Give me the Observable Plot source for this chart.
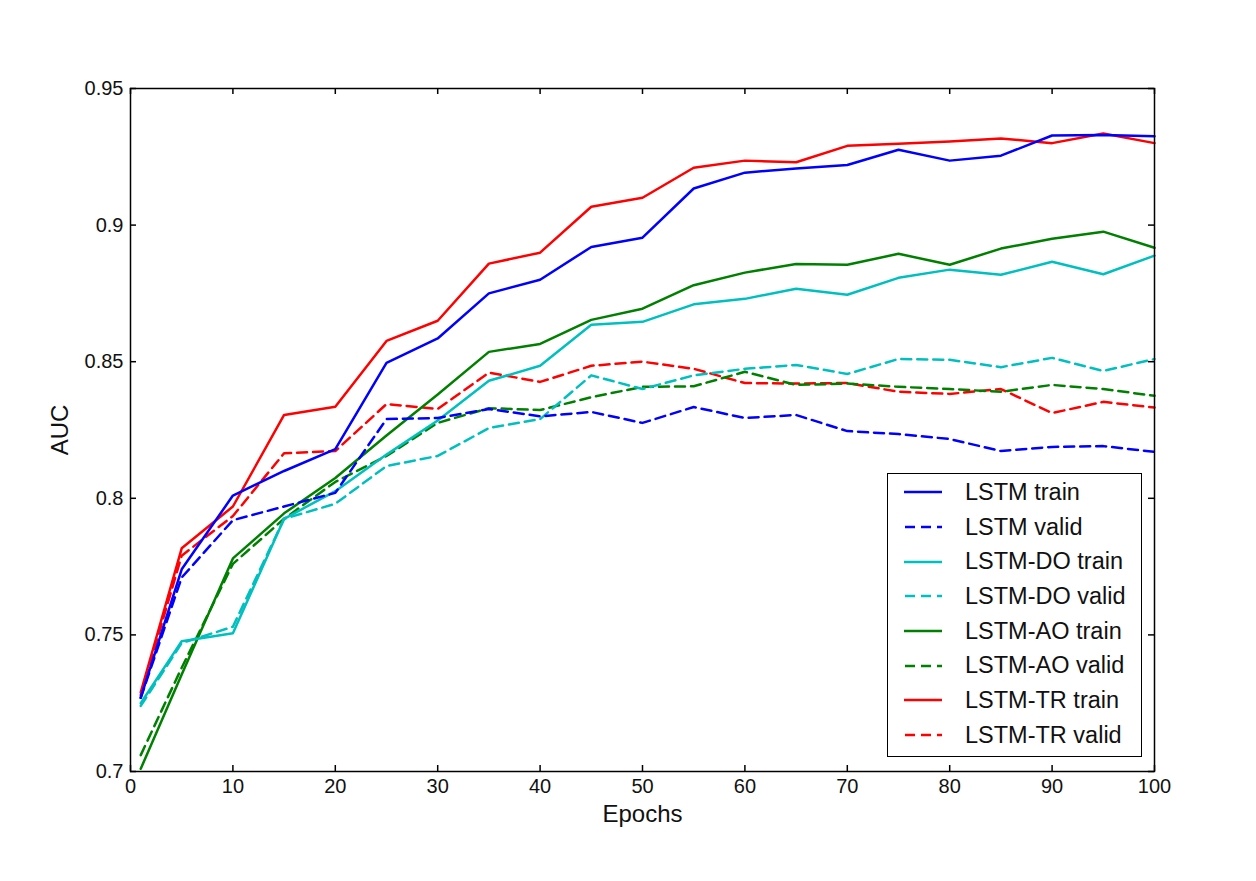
<!DOCTYPE html>
<html>
<head>
<meta charset="utf-8">
<script src="https://cdn.jsdelivr.net/npm/d3@7"></script>
<script src="https://cdn.jsdelivr.net/npm/@observablehq/plot@0.6"></script>
<style>
  html, body { margin: 0; padding: 0; background: #fff; }
  #wrap { position: relative; width: 1256px; height: 881px; font-family: "Liberation Sans", Arial, Helvetica, sans-serif; }
  #legend { position: absolute; left: 887px; top: 473px; width: 255px; height: 284px; border: 1.5px solid #000; background: #fff; box-sizing: border-box; padding-top: 1px; }
  .row { height: 34.7px; display: flex; align-items: center; font-size: 23.5px; color: #111; }
  .row svg { margin-left: 16px; margin-right: 23px; }
</style>
</head>
<body>
<div id="wrap"></div>
<script>
const epochs = [1,5,10,15,20,25,30,35,40,45,50,55,60,65,70,75,80,85,90,95,100];

const lstmTrain   = [0.727,0.774,0.801,0.810,0.818,0.8496,0.8585,0.875,0.880,0.892,0.8954,0.9134,0.9192,0.9207,0.922,0.9276,0.9236,0.9254,0.9328,0.933,0.9325];
const lstmValid   = [0.727,0.771,0.792,0.797,0.802,0.829,0.8294,0.8327,0.830,0.8316,0.8276,0.8334,0.8294,0.8305,0.8246,0.8235,0.8217,0.8173,0.8188,0.8191,0.817];
const doTrain     = [0.725,0.7477,0.7506,0.7925,0.8026,0.816,0.8285,0.843,0.8485,0.8635,0.8646,0.871,0.873,0.8767,0.8745,0.8807,0.8837,0.8818,0.8866,0.882,0.8888];
const doValid     = [0.724,0.747,0.753,0.7925,0.798,0.8118,0.8155,0.8257,0.829,0.845,0.840,0.845,0.8474,0.8488,0.8455,0.851,0.8507,0.848,0.8514,0.8466,0.851];
const aoTrain     = [0.701,0.7355,0.778,0.7945,0.8074,0.823,0.838,0.8536,0.8565,0.8653,0.8694,0.878,0.8826,0.8858,0.8855,0.8895,0.8855,0.8914,0.895,0.8976,0.8917];
const aoValid     = [0.706,0.738,0.776,0.7925,0.806,0.8155,0.8276,0.833,0.8323,0.837,0.8408,0.841,0.8463,0.8415,0.842,0.8408,0.840,0.839,0.8415,0.840,0.8375];
const trTrain     = [0.729,0.7817,0.797,0.8305,0.8335,0.8576,0.865,0.8859,0.8899,0.9067,0.910,0.921,0.9236,0.923,0.929,0.9298,0.9306,0.9317,0.930,0.9335,0.930];
const trValid     = [0.728,0.779,0.7935,0.8165,0.8173,0.8345,0.8327,0.846,0.8426,0.8485,0.850,0.8474,0.8422,0.842,0.8422,0.839,0.8382,0.840,0.8312,0.8353,0.8332];

const seriesNames = ["LSTM train","LSTM valid","LSTM-DO train","LSTM-DO valid","LSTM-AO train","LSTM-AO valid","LSTM-TR train","LSTM-TR valid"];
const seriesValues = [lstmTrain,lstmValid,doTrain,doValid,aoTrain,aoValid,trTrain,trValid];
const seriesColors = ["#0000ff","#0000ff","#00bfbf","#00bfbf","#008000","#008000","#ff0000","#ff0000"];
const seriesDashed = [false,true,false,true,false,true,false,true];

const xTicks = [0,10,20,30,40,50,60,70,80,90,100];
const yTicks = [0.7,0.75,0.8,0.85,0.9,0.95];

const W = 1256, H = 881;
const mL = 130, mR = 102, mT = 88, mB = 110;
const innerW = W - mL - mR, innerH = H - mT - mB;
const tickLen = 6;

const lineMarks = seriesNames.map((name, i) =>
  Plot.line(epochs.map((e, j) => ({epoch: e, auc: seriesValues[i][j]})), {
    x: "epoch", y: "auc",
    stroke: seriesColors[i], strokeWidth: 2.5,
    strokeDasharray: seriesDashed[i] ? "10,6" : null
  })
);

const chart = Plot.plot({
  width: W, height: H,
  marginLeft: mL, marginRight: mR, marginTop: mT, marginBottom: mB,
  style: {fontFamily: '"Liberation Sans", Arial, Helvetica, sans-serif', background: "#fff", color: "#111"},
  x: {domain: [0, 100]},
  y: {domain: [0.7, 0.95]},
  marks: [
    ...lineMarks.slice().reverse(),
    Plot.frame({stroke: "#000", strokeWidth: 1.5}),
    Plot.tickX(xTicks, {x: d => d, stroke: "#000", strokeWidth: 1.5, insetTop: innerH - tickLen}),
    Plot.tickX(xTicks, {x: d => d, stroke: "#000", strokeWidth: 1.5, insetBottom: innerH - tickLen}),
    Plot.tickY(yTicks, {y: d => d, stroke: "#000", strokeWidth: 1.5, insetRight: innerW - tickLen}),
    Plot.tickY(yTicks, {y: d => d, stroke: "#000", strokeWidth: 1.5, insetLeft: innerW - tickLen}),
    Plot.axisX({ticks: xTicks, tickSize: 0, tickPadding: 7, fontSize: 20, label: "Epochs", labelAnchor: "center", labelOffset: 50, labelArrow: "none"}),
    Plot.axisY({ticks: yTicks, tickSize: 0, tickPadding: 7, fontSize: 20, tickFormat: d3.format("~g"), label: "AUC", labelAnchor: "center", labelOffset: 80, labelArrow: "none"})
  ]
});

const wrap = document.getElementById("wrap");
wrap.appendChild(chart);
chart.querySelectorAll("[aria-label='x-axis label'] text, [aria-label='y-axis label'] text").forEach(t => t.setAttribute("font-size", "24"));

const legend = document.createElement("div");
legend.id = "legend";
seriesNames.forEach((name, i) => {
  const row = document.createElement("div");
  row.className = "row";
  row.innerHTML = `<svg width="38" height="6"><line x1="0" y1="3" x2="38" y2="3" stroke="${seriesColors[i]}" stroke-width="2.5" ${seriesDashed[i] ? 'stroke-dasharray="10,6" stroke-dashoffset="-1"' : ''}/></svg><span>${name}</span>`;
  legend.appendChild(row);
});
wrap.appendChild(legend);
</script>
</body>
</html>
